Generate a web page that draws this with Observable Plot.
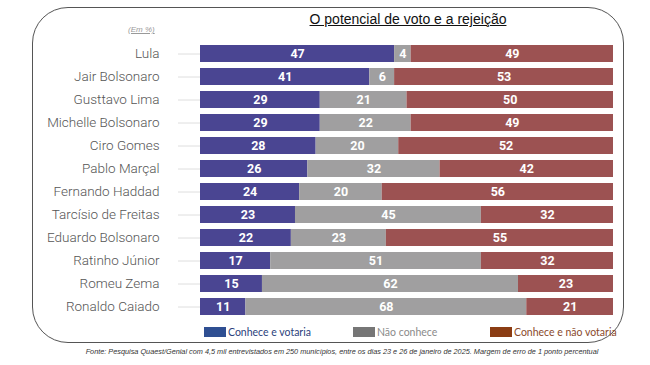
<!DOCTYPE html>
<html>
<head>
<meta charset="utf-8">
<script src="https://cdn.jsdelivr.net/npm/d3@7"></script>
<script src="https://cdn.jsdelivr.net/npm/@observablehq/plot@0.6"></script>
<style>
  html, body { margin: 0; padding: 0; background: #fff; }
  #wrap { position: relative; width: 650px; height: 365px; overflow: hidden; background: #fff; }
  #frame { position: absolute; left: 32px; top: 7px; width: 592px; height: 336px; border: 1px solid #555; border-radius: 36px; box-sizing: border-box; }
  #title { position: absolute; left: 300px; width: 216px; top: 11px; text-align: center; font-family: "Liberation Sans", Arial, sans-serif; font-size: 14px; color: #111; text-decoration: underline; white-space: nowrap; }
  #unit { position: absolute; left: 128px; top: 25px; font-family: "Liberation Sans", sans-serif; font-size: 8px; font-style: italic; color: #999; text-decoration: underline; }
  #chart { position: absolute; left: 0; top: 0; }
  .leg { position: absolute; top: 326px; font-family: "Lato", "Liberation Sans", sans-serif; font-size: 10.5px; white-space: nowrap; line-height: 12px; }
  .sw { display: inline-block; width: 22px; height: 10px; vertical-align: -1px; margin-right: 2px; }
  #foot { position: absolute; left: 17px; width: 650px; top: 347px; text-align: center; font-family: "Liberation Sans", sans-serif; font-size: 7.3px; font-style: italic; color: #333; white-space: nowrap; }
  #chart g[aria-label="y-axis tick label"] text { font-family: Roboto, "Liberation Sans", sans-serif; font-weight: 300; }
  #chart g[aria-label="text"] text { font-family: "Roboto", "Liberation Sans", sans-serif; font-weight: bold; }
</style>
</head>
<body>
<div id="wrap">
  <div id="frame"></div>
  <div id="title">O potencial de voto e a rejeição</div>
  <div id="unit">(Em %)</div>
  <div id="chart"></div>
  <div class="leg" style="left:204px;color:#2b3f7c"><span class="sw" style="background:#2f4f92"></span>Conhece e votaria</div>
  <div class="leg" style="left:353px;color:#8a8a8a"><span class="sw" style="background:#767676"></span>Não conhece</div>
  <div class="leg" style="left:490px;color:#8a4a2c"><span class="sw" style="background:#8b3d14"></span>Conhece e não votaria</div>
  <div id="foot">Fonte: Pesquisa Quaest/Genial com 4,5 mil entrevistados em 250 municípios, entre os dias 23 e 26 de janeiro de 2025. Margem de erro de 1 ponto percentual</div>
</div>
<script>
const names = ["Lula", "Jair Bolsonaro", "Gusttavo Lima", "Michelle Bolsonaro", "Ciro Gomes", "Pablo Marçal", "Fernando Haddad", "Tarcísio de Freitas", "Eduardo Bolsonaro", "Ratinho Júnior", "Romeu Zema", "Ronaldo Caiado"];
const votaria = [47, 41, 29, 29, 28, 26, 24, 23, 22, 17, 15, 11];
const naoConhece = [4, 6, 21, 22, 20, 32, 20, 45, 23, 51, 62, 68];
const naoVotaria = [49, 53, 50, 49, 52, 42, 56, 32, 55, 32, 23, 21];
const categories = ["Conhece e votaria", "Não conhece", "Conhece e não votaria"];
const barColors = ["#4a4592", "#a09fa0", "#9c5252"];

const series = [votaria, naoConhece, naoVotaria];
const data = [];
names.forEach((n, i) => {
  categories.forEach((c, k) => data.push({name: n, cat: c, value: series[k][i]}));
});

const chart = Plot.plot({
  width: 650,
  height: 365,
  marginLeft: 200,
  marginRight: 37,
  marginTop: 38.7,
  marginBottom: 43.1,
  style: {background: "transparent", overflow: "visible"},
  x: {domain: [0, 100], axis: null},
  y: {domain: names, paddingInner: 0.254, paddingOuter: 0.127, label: null},
  color: {domain: categories, range: barColors},
  marks: [
    Plot.axisY({tickSize: 22, tickPadding: 19, stroke: "#dedede", fill: "#555", fontSize: 13.5, label: null}),
    Plot.barX(data, {y: "name", x: "value", fill: "cat", order: categories}),
    Plot.text(data, Plot.stackX({y: "name", x: "value", z: "cat", order: categories, text: d => String(d.value), fill: "white", fontSize: 12.5}))
  ]
});
document.getElementById("chart").appendChild(chart);
</script>
</body>
</html>
